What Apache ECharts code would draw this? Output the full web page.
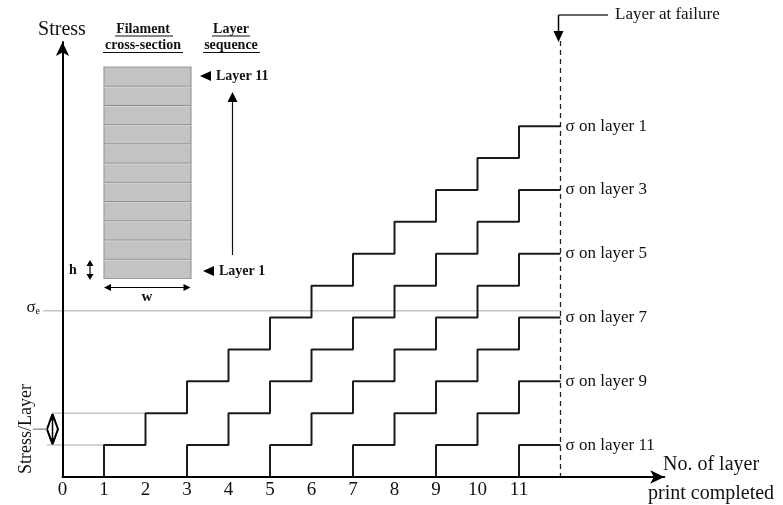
<!DOCTYPE html>
<html><head><meta charset="utf-8">
<script src="https://cdn.jsdelivr.net/npm/echarts@6/dist/echarts.min.js"></script>
<style>html,body{margin:0;padding:0;background:#fff}#c{width:783px;height:505px}</style>
</head><body><div id="c"></div>
<script>
// ---- data ----
const xTickLabels = [0,1,2,3,4,5,6,7,8,9,10,11];
const layerIds = [1,3,5,7,9,11];
const stressOnLayer1  = [1,2,3,4,5,6,7,8,9,10,11];
const stressOnLayer3  = [1,2,3,4,5,6,7,8,9];
const stressOnLayer5  = [1,2,3,4,5,6,7];
const stressOnLayer7  = [1,2,3,4,5];
const stressOnLayer9  = [1,2,3];
const stressOnLayer11 = [1];
const failureLayer = 12;
const sigmaE = 5.21;
const stressPerLayerLevels = [1,2];
const filamentLayerCount = 11;

const FONT = "'Liberation Serif','Times New Roman',serif";
const stressSets = [stressOnLayer1,stressOnLayer3,stressOnLayer5,stressOnLayer7,stressOnLayer9,stressOnLayer11];

function stepPoints(start, levels){
  const pts=[[start,0]];
  levels.forEach((v,i)=>{ pts.push([start+i,v]); pts.push([start+i+1,v]); });
  return pts;
}

const series = layerIds.map((n,k)=>({
  type:'line', name:'σ on layer '+n, data: stepPoints(n, stressSets[k]),
  symbol:'none', silent:true, animation:false,
  lineStyle:{color:'#1a1a1a', width:2},
  endLabel:{show:true, formatter:'σ on layer '+n, color:'#111', fontSize:17, fontFamily:FONT, distance:5}
}));

const chart = echarts.init(document.getElementById('c'));
chart.setOption({
  animation:false,
  grid:{left:62.5, right:118.75, top:42, bottom:28},
  xAxis:{type:'value', min:0, max:14.5, interval:1,
    axisLine:{show:true, lineStyle:{color:'#000', width:2}, symbol:['none','arrow'], symbolSize:[10,14]},
    axisTick:{show:false}, splitLine:{show:false},
    axisLabel:{margin:4, fontSize:19, fontFamily:FONT, color:'#111',
      formatter:v=> xTickLabels.includes(v)? String(v):''}},
  yAxis:{type:'value', min:0, max:13.64,
    axisLine:{show:true, lineStyle:{color:'#000', width:2}, symbol:['none','arrow'], symbolSize:[10,14]},
    axisTick:{show:false}, splitLine:{show:false}, axisLabel:{show:false}},
  series
});

const P = (x,y)=>chart.convertToPixel({gridIndex:0},[x,y]);
const g = [];
const txt = (x,y,text,opt={})=>g.push({type:'text', x, y, style:Object.assign({text, fill:'#111', font:`${opt.size||17}px ${FONT}`, textAlign:'left', textVerticalAlign:'middle'}, opt.style||{}), rotation:opt.rotation||0});
const ln = (x1,y1,x2,y2,stroke='#000',w=1,dash)=>g.push({type:'line', shape:{x1,y1,x2,y2}, style:{stroke, lineWidth:w, lineDash:dash}});
const poly = (pts,fill='#000')=>g.push({type:'polygon', shape:{points:pts}, style:{fill}});

// Stress title
txt(62,30,'Stress',{size:20,style:{textAlign:'center'}});
// sigma_e
const ye = P(0,sigmaE)[1];
const xf = P(failureLayer,0)[0];
ln(43,ye,xf,ye,'#c4c4c4',1.5);
g.push({type:'text', x:40, y:ye-3, style:{text:'{a|σ}{b|e}', textAlign:'right', textVerticalAlign:'middle',
  rich:{a:{fontSize:17,fontFamily:FONT,fill:'#111'}, b:{fontSize:10,fontFamily:FONT,fill:'#111',padding:[8,0,0,0]}}}});
// stress/layer bracket
const y1 = P(0,stressPerLayerLevels[0])[1], y2 = P(0,stressPerLayerLevels[1])[1];
const ym = (y1+y2)/2;
ln(47,y1,P(1,0)[0],y1,'#c4c4c4',1.5);
ln(52,y2,P(2,0)[0],y2,'#c4c4c4',1.5);
ln(52.5,y2+2,52.5,y1-2,'#000',1.5);
g.push({type:'polyline', shape:{points:[[52.5,y2+1],[47,ym],[52.5,y1-1]]}, style:{stroke:'#000',lineWidth:2,fill:null}});
g.push({type:'polyline', shape:{points:[[52.5,y2+1],[58,ym],[52.5,y1-1]]}, style:{stroke:'#000',lineWidth:2,fill:null}});
poly([[52.5,y2],[49.5,y2+7],[55.5,y2+7]]);
poly([[52.5,y1],[49.5,y1-7],[55.5,y1-7]]);
ln(33,ym,47,ym,'#999',1.5);
txt(26,429,'Stress/Layer',{size:18,rotation:Math.PI/2,style:{textAlign:'center'}});
// failure line
ln(xf,41,xf,481,'#222',1.3,[5,4]);
ln(xf-2,15,608,15,'#333',1.3);
ln(xf-2,15,xf-2,33,'#000',1.5);
poly([[xf-7,31],[xf+3,31],[xf-2,42]]);
txt(615,15,'Layer at failure',{size:17});
// x axis name
txt(663,465,'No. of layer',{size:20});
txt(648,494,'print completed',{size:20});
// inset: filament cross-section
const rx=104, ry=67, rw=87, rh=211.5;
g.push({type:'rect', shape:{x:rx,y:ry,width:rw,height:rh}, style:{fill:'#c3c3c3', stroke:'#9a9a9a', lineWidth:1.2}});
for(let i=1;i<filamentLayerCount;i++){ const yy=ry+rh*i/filamentLayerCount; ln(rx,yy,rx+rw,yy,'#8f8f8f',1); ln(rx,yy+1,rx+rw,yy+1,'#d8d8d8',0.8); }
const bold = (x,y,t,size=14,align='center')=>g.push({type:'text',x,y,style:{text:t,fill:'#111',font:`bold ${size}px ${FONT}`,textAlign:align,textVerticalAlign:'middle'}});
bold(143,29,'Filament'); ln(115,36,173,36,'#111',1);
bold(143,45.5,'cross-section'); ln(103,52.5,183,52.5,'#111',1);
bold(231,29,'Layer'); ln(212,36,250,36,'#111',1);
bold(231,45.5,'sequence'); ln(203,52.5,260,52.5,'#111',1);
poly([[200,76],[211,71],[211,81]]); bold(216,76,'Layer 11',14,'left');
poly([[203,271],[214,266],[214,276]]); bold(219,271,'Layer 1',14,'left');
ln(232.5,255,232.5,100,'#111',1.2); poly([[227.5,102],[237.5,102],[232.5,92]]);
bold(73,270,'h',14,'center');
ln(90,264,90,276,'#000',1.2); poly([[86.5,266],[93.5,266],[90,260]]); poly([[86.5,274],[93.5,274],[90,280]]);
ln(108,287.5,186,287.5,'#000',1.2); poly([[104,287.5],[111,284],[111,291]]); poly([[190.5,287.5],[183.5,284],[183.5,291]]);
bold(147,297,'w',15,'center');

chart.setOption({graphic:{elements:g}});
</script></body></html>
